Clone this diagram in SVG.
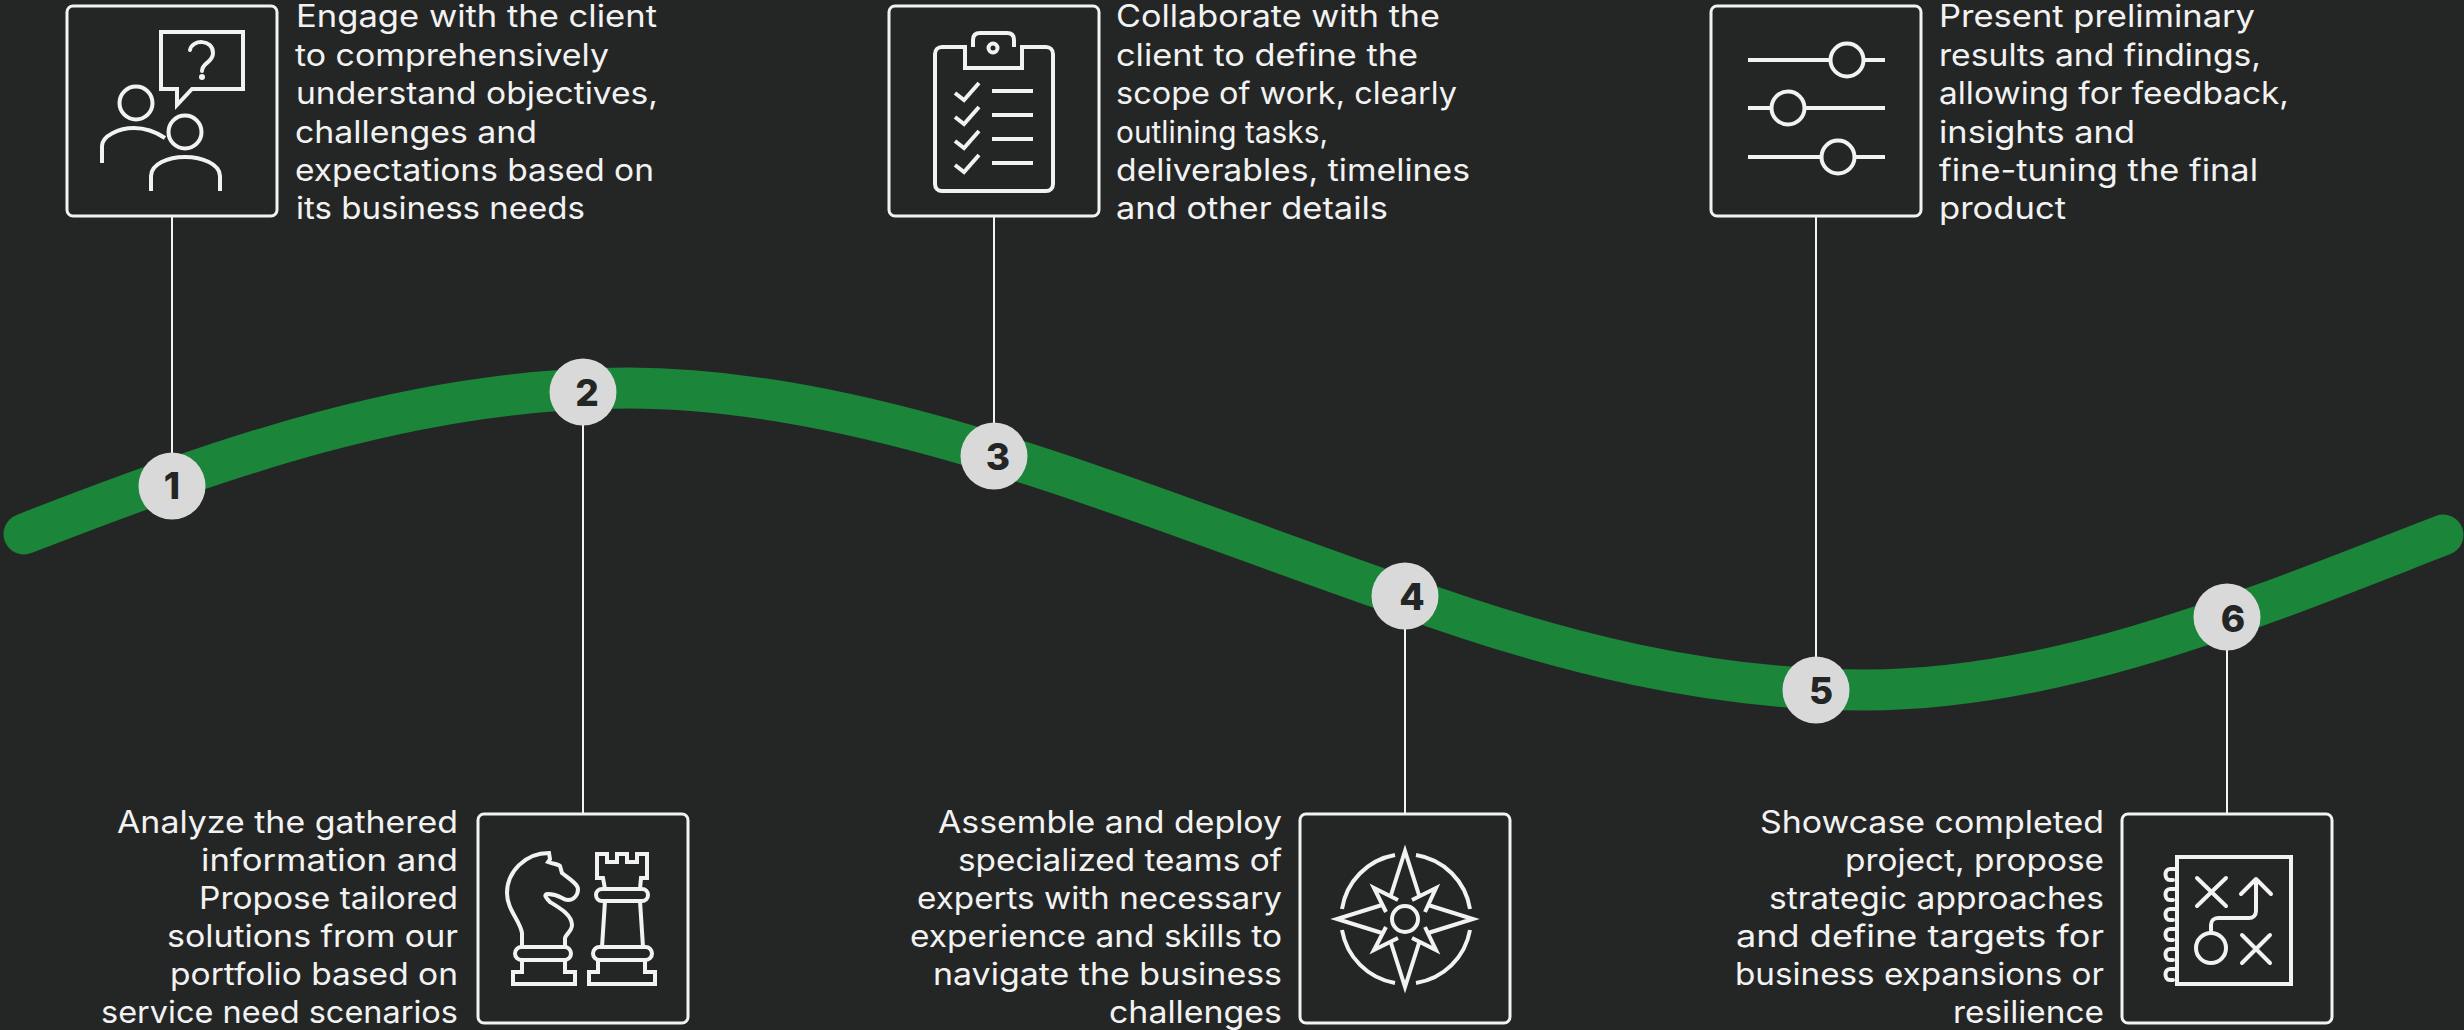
<svg xmlns="http://www.w3.org/2000/svg" width="2464" height="1030" viewBox="0 0 2464 1030">
<style>
.bg{fill:#242625}
.box{fill:#242625;stroke:#f2f2f2;stroke-width:3}
.ln{stroke:#f2f2f2;stroke-width:2;fill:none}
.ic{fill:none;stroke:#f2f2f2;stroke-width:4;stroke-linecap:butt;stroke-linejoin:miter}
.rd{stroke-linecap:round;stroke-linejoin:round}
.cr{fill:#d9d9d9}
.num{font:800 37px "Inter","Liberation Sans",sans-serif;fill:#242625;text-anchor:middle}
.t{font:400 31px "Inter","Liberation Sans",sans-serif;fill:#f2f2f2}
.e{text-anchor:end}
</style>
<rect class="bg" width="2464" height="1030"/>
<path d="M24 534C230 454 420 388 628 388C880 388 1150 510 1405 597C1560 653 1710 690 1865 690C2060 690 2250 610 2443 535" fill="none" stroke="#1b853a" stroke-width="41" stroke-linecap="round"/>
<g id="connectors">
<path class="ln" d="M172 216V486M994 216V456M1816 216V690M583 392V814M1405 596V814M2227 617V814"/>
</g>
<g id="node1"><rect class="box" x="67" y="6" width="210" height="210" rx="6"/>
<circle class="cr" cx="172" cy="486" r="33.5"/><text class="num" x="172" y="499">1</text>
<path class="ic" d="M161 89V32H243V89H192L177 105V89Z" stroke-linejoin="round"/>
<path class="ic rd" d="M190 50C192 39 213 39 213 53C213 63 202 62 202 71"/><circle cx="202" cy="77" r="3" fill="#f2f2f2"/>
<circle class="ic" cx="136" cy="103" r="16.5"/><path class="ic" d="M102 163V146C102 136 119 128 134 128C146 128 156 132 165 138"/>
<circle class="ic" cx="185" cy="132" r="16.5"/><path class="ic" d="M151 191V176C151 164 168 157 185 157S220 164 220 176V191"/>
<text class="t" lengthAdjust="spacingAndGlyphs" x="296" y="27" textLength="361">Engage with the client</text><text class="t" lengthAdjust="spacingAndGlyphs" x="295" y="66" textLength="314">to comprehensively</text><text class="t" lengthAdjust="spacingAndGlyphs" x="296" y="104" textLength="362">understand objectives,</text><text class="t" lengthAdjust="spacingAndGlyphs" x="295" y="143" textLength="242">challenges and</text><text class="t" lengthAdjust="spacingAndGlyphs" x="295" y="181" textLength="359">expectations based on</text><text class="t" lengthAdjust="spacingAndGlyphs" x="296" y="219" textLength="289">its business needs</text>
</g>
<g id="node2"><rect class="box" x="478" y="814" width="210" height="209" rx="6"/>
<circle class="cr" cx="583" cy="392" r="33.5"/><text class="num" x="587" y="406">2</text>
<path class="ic" d="M522 947V933C520 920 507 910 507 893C507 872 525 853 549 853L550 859L548 862C553 864 558 864 560 866L562 873C568 878 578 884 578 889C578 895 574 900 568 900C562 900 560 894 548 894C543 894 546 898 550 902C560 908 572 915 572 925C572 931 566 934 565 938V947"/>
<rect class="ic" x="515" y="947" width="56" height="13" rx="6.5"/>
<path class="ic" d="M522 960V972H513V984H575V972H565V960"/>
<path class="ic" d="M597 854H607V862H617V854H627V862H637V854H647V878H641L640 889H605L603 878H597Z"/>
<rect class="ic" x="596" y="889" width="52" height="12" rx="6"/>
<path class="ic" d="M605 901L602 947M640 901L643 947"/>
<rect class="ic" x="593" y="947" width="59" height="13" rx="6.5"/>
<path class="ic" d="M598 960V972H589V984H655V972H645V960"/>
<text class="t e" lengthAdjust="spacingAndGlyphs" x="458" y="833" textLength="341">Analyze the gathered</text><text class="t e" lengthAdjust="spacingAndGlyphs" x="458" y="871" textLength="257">information and</text><text class="t e" lengthAdjust="spacingAndGlyphs" x="458" y="909" textLength="259">Propose tailored</text><text class="t e" lengthAdjust="spacingAndGlyphs" x="458" y="947" textLength="291">solutions from our</text><text class="t e" lengthAdjust="spacingAndGlyphs" x="458" y="985" textLength="288">portfolio based on</text><text class="t e" lengthAdjust="spacingAndGlyphs" x="458" y="1023" textLength="357">service need scenarios</text>
</g>
<g id="node3"><rect class="box" x="889" y="6" width="210" height="210" rx="6"/>
<circle class="cr" cx="994" cy="456" r="33.5"/><text class="num" x="998" y="470">3</text>
<path class="ic" d="M965 47H942C938 47 935 50 935 54V184C935 188 938 191 942 191H1046C1050 191 1053 188 1053 184V54C1053 50 1050 47 1046 47H1022V68H965ZM973 47V40C973 35 976 33 980 33H1007C1011 33 1014 35 1014 40V47"/>
<circle class="ic" cx="993" cy="48" r="4.5"/>
<path class="ic" d="M955 93L964 100L979 83M955 117L964 124L979 107M955 141L964 148L979 131M955 165L964 172L979 155M992 91H1033M992 115H1033M992 139H1033M992 163H1033"/>
<text class="t" lengthAdjust="spacingAndGlyphs" x="1116" y="27" textLength="324">Collaborate with the</text><text class="t" lengthAdjust="spacingAndGlyphs" x="1116" y="66" textLength="302">client to define the</text><text class="t" lengthAdjust="spacingAndGlyphs" x="1116" y="104" textLength="341">scope of work, clearly</text><text class="t" lengthAdjust="spacingAndGlyphs" x="1116" y="143" textLength="212">outlining tasks,</text><text class="t" lengthAdjust="spacingAndGlyphs" x="1116" y="181" textLength="354">deliverables, timelines</text><text class="t" lengthAdjust="spacingAndGlyphs" x="1116" y="219" textLength="272">and other details</text>
</g>
<g id="node4"><rect class="box" x="1300" y="814" width="210" height="209" rx="6"/>
<circle class="cr" cx="1405" cy="596" r="33.5"/><text class="num" x="1412" y="610">4</text>
<path class="ic" d="M1391 895L1405 851L1419 895M1412 900L1436 888L1425 912M1428 905L1473 919L1428 933M1425 927L1436 950L1412 938M1419 943L1405 987L1391 943M1398 938L1374 950L1386 927M1382 933L1337 919L1382 905M1386 912L1374 888L1398 900"/>
<circle class="ic" cx="1405" cy="919" r="13"/>
<path class="ic" d="M1342 909A65 65 0 0 1 1395 855M1416 855A65 65 0 0 1 1470 909M1470 930A65 65 0 0 1 1416 983M1395 983A65 65 0 0 1 1342 930"/>
<text class="t e" lengthAdjust="spacingAndGlyphs" x="1282" y="833" textLength="344">Assemble and deploy</text><text class="t e" lengthAdjust="spacingAndGlyphs" x="1282" y="871" textLength="324">specialized teams of</text><text class="t e" lengthAdjust="spacingAndGlyphs" x="1282" y="909" textLength="365">experts with necessary</text><text class="t e" lengthAdjust="spacingAndGlyphs" x="1282" y="947" textLength="372">experience and skills to</text><text class="t e" lengthAdjust="spacingAndGlyphs" x="1282" y="985" textLength="349">navigate the business</text><text class="t e" lengthAdjust="spacingAndGlyphs" x="1282" y="1023" textLength="173">challenges</text>
</g>
<g id="node5"><rect class="box" x="1711" y="6" width="210" height="210" rx="6"/>
<circle class="cr" cx="1816" cy="690" r="33.5"/><text class="num" x="1821" y="704">5</text>
<path class="ic" d="M1748 60H1830M1864 60H1885M1748 108H1771M1805 108H1885M1748 157H1821M1855 157H1885"/>
<circle class="ic" cx="1847" cy="60" r="16.5"/><circle class="ic" cx="1788" cy="108" r="16.5"/><circle class="ic" cx="1838" cy="157" r="16.5"/>
<text class="t" lengthAdjust="spacingAndGlyphs" x="1939" y="27" textLength="316">Present preliminary</text><text class="t" lengthAdjust="spacingAndGlyphs" x="1939" y="66" textLength="322">results and findings,</text><text class="t" lengthAdjust="spacingAndGlyphs" x="1939" y="104" textLength="350">allowing for feedback,</text><text class="t" lengthAdjust="spacingAndGlyphs" x="1939" y="143" textLength="196">insights and</text><text class="t" lengthAdjust="spacingAndGlyphs" x="1939" y="181" textLength="319">fine-tuning the final</text><text class="t" lengthAdjust="spacingAndGlyphs" x="1939" y="219" textLength="127">product</text>
</g>
<g id="node6"><rect class="box" x="2122" y="814" width="210" height="209" rx="6"/>
<circle class="cr" cx="2227" cy="617" r="33.5"/><text class="num" x="2233" y="632">6</text>
<rect class="ic" x="2177" y="857" width="114" height="127"/>
<path class="ic rd" d="M2175 869H2170C2164 869 2164 880 2170 880H2173M2175 889H2170C2164 889 2164 900 2170 900H2173M2175 909H2170C2164 909 2164 920 2170 920H2173M2175 929H2170C2164 929 2164 940 2170 940H2173M2175 949H2170C2164 949 2164 960 2170 960H2173M2175 969H2170C2164 969 2164 980 2170 980H2173"/>
<path class="ic rd" d="M2197 878L2226 906M2226 878L2197 906M2242 935L2270 963M2270 935L2242 963M2241 894L2256 879L2271 894M2256 879V911C2256 915 2253 918 2249 918H2218C2214 918 2211 921 2211 925V933"/>
<circle class="ic" cx="2211" cy="948" r="15"/>
<text class="t e" lengthAdjust="spacingAndGlyphs" x="2104" y="833" textLength="344">Showcase completed</text><text class="t e" lengthAdjust="spacingAndGlyphs" x="2104" y="871" textLength="259">project, propose</text><text class="t e" lengthAdjust="spacingAndGlyphs" x="2104" y="909" textLength="335">strategic approaches</text><text class="t e" lengthAdjust="spacingAndGlyphs" x="2104" y="947" textLength="368">and define targets for</text><text class="t e" lengthAdjust="spacingAndGlyphs" x="2104" y="985" textLength="369">business expansions or</text><text class="t e" lengthAdjust="spacingAndGlyphs" x="2104" y="1023" textLength="151">resilience</text>
</g>
</svg>
